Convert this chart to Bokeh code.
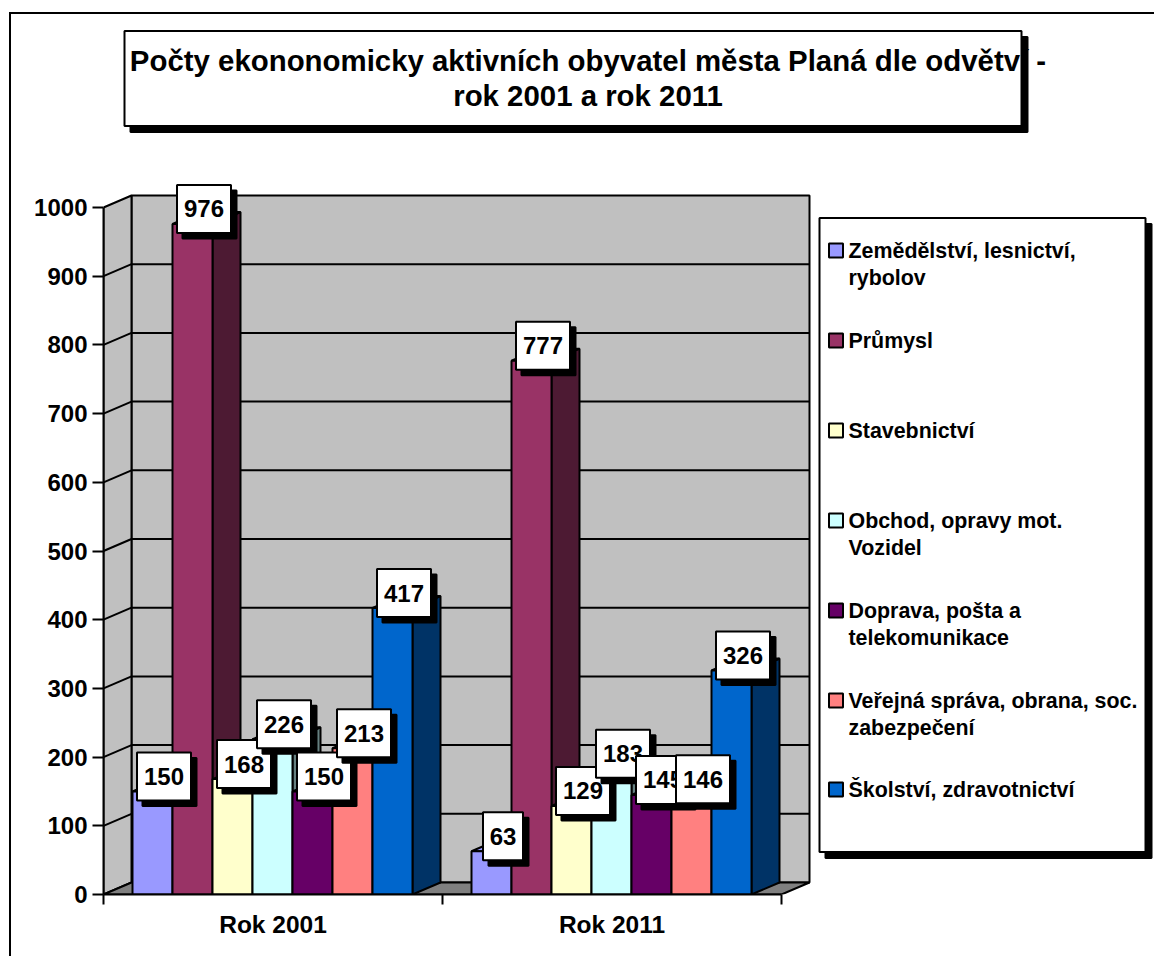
from bokeh.plotting import figure
from bokeh.models import Range1d, LinearAxis, FixedTicker
from bokeh.core.properties import value
from bokeh.embed import file_html
from bokeh.resources import INLINE

title_lines = ["Počty ekononomicky aktivních obyvatel města Planá dle odvětví -", "rok 2001 a rok 2011"]
years = ["Rok 2001", "Rok 2011"]
sectors = ["Zemědělství, lesnictví,\nrybolov", "Průmysl", "Stavebnictví", "Obchod, opravy mot.\nVozidel",
           "Doprava, pošta a\ntelekomunikace", "Veřejná správa, obrana, soc.\nzabezpečení", "Školství, zdravotnictví"]
values_2001 = [150, 976, 168, 226, 150, 213, 417]
values_2011 = [63, 777, 129, 183, 145, 146, 326]
colors = ["#9999FF", "#993366", "#FFFFCC", "#CCFFFF", "#660066", "#FF8080", "#0066CC"]
sides = ["#4D4D80", "#4D1A33", "#808066", "#668080", "#330033", "#804040", "#003366"]
y_ticks = list(range(0, 1001, 100))

FONT = value("Liberation Sans")
W, H = 1154, 956
LEFT, BASE = 103, 894          # page position of the axes origin
GROUP_PX, Y_SCALE = 339, 0.687 # px per group, px per unit
def px(page_x): return (page_x - LEFT) / GROUP_PX
def py(page_y): return (BASE - page_y) / Y_SCALE
DX, DY = 28 / GROUP_PX, 12 / Y_SCALE
BAR_W, BAR_START = 40 / GROUP_PX, 29 / GROUP_PX

p = figure(width=W, height=H, output_backend="svg", toolbar_location=None,
           x_range=Range1d(0, (W - LEFT) / GROUP_PX), y_range=Range1d(0, BASE / Y_SCALE),
           x_axis_type=None, y_axis_type=None,
           min_border_left=LEFT, min_border_right=0, min_border_top=0, min_border_bottom=H - BASE)
p.outline_line_color = None
p.grid.visible = False
p.border_fill_color = None
p.background_fill_color = None
# chart frame: left and top rules of the chart area, which reach outside the plot frame
p.styles = {"background-color": "white",
            "background-image": "linear-gradient(#000,#000),linear-gradient(#000,#000)",
            "background-size": "2px 944px, 1145px 2px",
            "background-position": "9px 12px, 9px 12px",
            "background-repeat": "no-repeat"}

# axes
ya = LinearAxis(ticker=FixedTicker(ticks=y_ticks), bounds=(0, 1000))
ya.major_tick_out, ya.major_tick_in, ya.minor_tick_out, ya.minor_tick_in = 11, 0, 0, 0
ya.major_tick_line_width = ya.axis_line_width = 2
ya.major_label_standoff = 5
xa = LinearAxis(ticker=FixedTicker(ticks=[0.5, 1.5], minor_ticks=[0, 1, 2]), bounds=(0, 2))
xa.major_label_overrides = {0.5: years[0], 1.5: years[1]}
xa.major_tick_out, xa.major_tick_in, xa.minor_tick_out, xa.minor_tick_in = 0, 0, 10, 0
xa.minor_tick_line_width = xa.axis_line_width = 2
xa.minor_tick_line_color = "black"
xa.major_label_standoff = 6
for a in (ya, xa):
    a.major_label_text_font = "Liberation Sans"
    a.major_label_text_font_style = "bold"
    a.major_label_text_font_size = "24px"
    a.major_label_text_color = "black"
    a.axis_line_color = "black"
    a.major_tick_line_color = "black"
xa.major_label_text_font_size = "24.5px"
p.add_layout(ya, "left")
p.add_layout(xa, "below")

# walls and floor
p.patch([DX, 2 + DX, 2 + DX, DX], [DY, DY, 1000 + DY, 1000 + DY], fill_color="#C0C0C0", line_color="black", line_width=2)
p.patch([0, DX, DX, 0], [0, DY, 1000 + DY, 1000], fill_color="#C0C0C0", line_color="black", line_width=2)
p.patch([0, 2, 2 + DX, DX], [0, 0, DY, DY], fill_color="#808080", line_color="black", line_width=2)
grid_vals = y_ticks[1:-1]
p.segment([DX] * len(grid_vals), [v + DY for v in grid_vals], [2 + DX] * len(grid_vals), [v + DY for v in grid_vals],
          line_color="black", line_width=2)
p.segment([0] * len(grid_vals), grid_vals, [DX] * len(grid_vals), [v + DY for v in grid_vals],
          line_color="black", line_width=2)

# bars
labels = []
for g, vals in enumerate([values_2001, values_2011]):
    for i, v in enumerate(vals):
        x0 = g + BAR_START + i * BAR_W
        x1 = x0 + BAR_W
        p.patch([x1, x1 + DX, x1 + DX, x1], [0, DY, v + DY, v], fill_color=sides[i], line_color="black", line_width=2)
        p.patch([x0, x1, x1 + DX, x0 + DX], [v, v, v + DY, v + DY], fill_color=colors[i], line_color="black", line_width=2)
        p.quad(left=x0, right=x1, bottom=0, top=v, fill_color=colors[i], line_color="black", line_width=2)
        labels.append((x0 + BAR_W / 2 + 11.5 / GROUP_PX, v + 15 / Y_SCALE, v))

def shadow_box(cx, cy, w, h, off=5.5):
    p.rect(cx + off / GROUP_PX, cy - off / Y_SCALE, width=w, height=h, width_units="screen", height_units="screen",
           fill_color="black", line_color="black", line_width=2)
    p.rect(cx, cy, width=w, height=h, width_units="screen", height_units="screen",
           fill_color="white", line_color="black", line_width=2)

for cx, cy, v in labels:
    shadow_box(cx, cy, 54 if v >= 100 else 40, 48)
    p.text([cx], [cy], text=[str(v)], text_font=FONT, text_font_style="bold", text_font_size="24px",
           text_align="center", text_baseline="middle", text_color="black")

# title
shadow_box(px(572.5), py(78), 897, 95, off=6)
for line, yy in zip(title_lines, (60, 95)):
    p.text([px(587.5)], [py(yy)], text=[line], text_font=FONT, text_font_style="bold", text_font_size="29.4px",
           text_align="center", text_baseline="middle", text_color="black")

# legend
shadow_box(px(982), py(534.5), 326, 634, off=6)
legend_y = [250, 340, 430, 520, 610, 700, 789]
for name, c, yy in zip(sectors, colors, legend_y):
    p.rect(px(835.5), py(yy), width=14, height=14, width_units="screen", height_units="screen",
           fill_color=c, line_color="black", line_width=2)
    for k, line in enumerate(name.split("\n")):
        p.text([px(848)], [py(yy + k * 27)], text=[line], text_font=FONT, text_font_style="bold", text_font_size="21.4px",
               text_align="left", text_baseline="middle", text_color="black")

open("out.html", "w").write(file_html(p, INLINE))
